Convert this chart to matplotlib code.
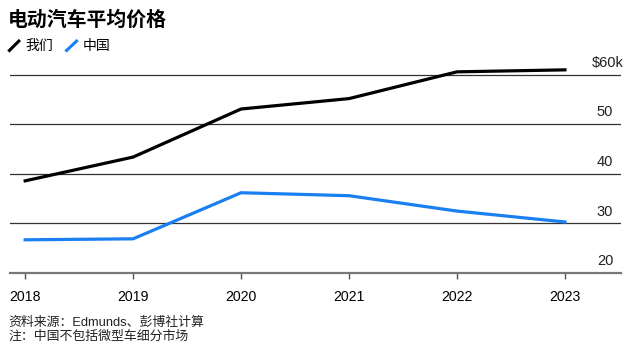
import matplotlib.pyplot as plt
from matplotlib.lines import Line2D

plt.rcParams['font.family'] = ['Liberation Sans', 'Noto Sans CJK SC', 'DejaVu Sans']

years = [2018, 2019, 2020, 2021, 2022, 2023]
us = [38.6, 43.4, 53.1, 55.2, 60.6, 61.0]
china = [26.7, 26.9, 36.2, 35.6, 32.5, 30.3]
ytick_vals = [20, 30, 40, 50, 60]
ytick_labels = ['20', '30', '40', '50', '$60k']

cjk = ['Noto Sans CJK SC', 'DejaVu Sans']
mixed = ['Liberation Sans', 'Noto Sans CJK SC']

fig = plt.figure(figsize=(6.28, 3.48), dpi=100)
ax = fig.add_axes([0.016, 0.2155, 0.973, 0.598])

ax.plot(years, us, color='black', lw=2.3, clip_on=False, zorder=3)
ax.plot(years, china, color='#1a7ff0', lw=2.3, clip_on=False, zorder=3)

ax.set_xlim(2017.86, 2023.52)
ax.set_ylim(20, 62)

# gridlines + labels sitting above them
for v in ytick_vals[1:]:
    ax.axhline(v, color='#333333', lw=0.9, zorder=1)
for v, lab in zip(ytick_vals, ytick_labels):
    xr = 1.005 if lab.endswith('k') else 0.987
    ax.text(xr, v + 1.6, lab, transform=ax.get_yaxis_transform(),
            ha='right', va='baseline', fontsize=10.5, color='#222222')

for s in ['top', 'right', 'left']:
    ax.spines[s].set_visible(False)
ax.spines['bottom'].set_color('#777777')
ax.spines['bottom'].set_linewidth(1.6)
ax.set_yticks([])
ax.set_xticks(years)
ax.tick_params(axis='x', length=4, width=1, color='#555555', labelsize=10.2, pad=8)

fig.text(0.013, 0.945, '电动汽车平均价格', family=cjk, fontsize=14.3, fontweight='bold',
         va='center')
fig.add_artist(Line2D([0.015, 0.030], [0.855, 0.882], color='black', lw=2.2,
                      transform=fig.transFigure))
fig.text(0.040, 0.868, '我们', family=cjk, fontsize=10, va='center')
fig.add_artist(Line2D([0.106, 0.122], [0.855, 0.882], color='#1a7ff0', lw=2.2,
                      transform=fig.transFigure))
fig.text(0.131, 0.868, '中国', family=cjk, fontsize=10, va='center')

fig.text(0.013, 0.073, '资料来源：Edmunds、彭博社计算', family=mixed, fontsize=9.3, va='center',
         color='#222222')
fig.text(0.013, 0.033, '注：中国不包括微型车细分市场', family=mixed, fontsize=9.3, va='center',
         color='#222222')

fig.savefig('out.png', dpi=100)
